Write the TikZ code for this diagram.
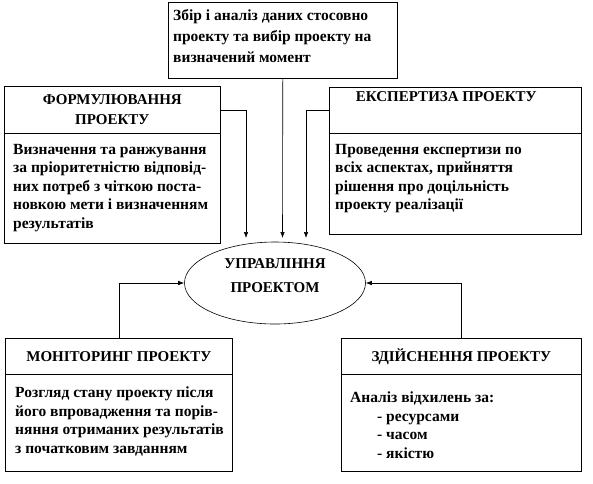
\documentclass[tikz,border=0pt]{standalone}
\usepackage{fontspec}
\setmainfont{Liberation Serif}
\usetikzlibrary{arrows.meta,shapes.geometric,calc}
\begin{document}
\begin{tikzpicture}[x=1pt,y=-1pt,
  box/.style={draw,line width=0.6pt,anchor=north west,inner sep=0pt},
  txt/.style={anchor=north west,inner sep=0pt,align=left,font=\fontsize{15.5}{18.5}\selectfont\bfseries},
  head/.style={inner sep=0pt,align=center,font=\fontsize{15}{20}\selectfont\bfseries},
  conn/.style={line width=0.6pt,-{Latex[length=6pt,width=4.5pt]}}]
\useasboundingbox (0,0) rectangle (593,483);
% top box
\node[box,minimum width=229pt,minimum height=76pt] (top) at (168,2) {};
\node[txt,font=\fontsize{15.5}{21}\selectfont\bfseries] (toptxt) at (173,9) {Збір і аналіз даних стосовно\\проекту та вибір проекту на\\визначений момент};
% formulation
\node[box,minimum width=216pt,minimum height=47pt] (fh) at (4,86) {};
\node[box,minimum width=216pt,minimum height=110pt] (fb) at (4,133) {};
\node[head] (fht) at (fh.center) {ФОРМУЛЮВАННЯ\\ПРОЕКТУ};
\node[txt] (fbt) at (13,144) {Визначення та ранжування\\за пріоритетністю відповід-\\них потреб з чіткою поста-\\новкою мети і визначенням\\результатів};
% expertise
\node[box,minimum width=252pt,minimum height=46pt] (eh) at (329,87) {};
\node[box,minimum width=252pt,minimum height=101pt] (eb) at (329,133) {};
\node[head] (eht) at ($(eh.center)+(-9,-14)$) {ЕКСПЕРТИЗА ПРОЕКТУ};
\node[txt] (ebt) at (335,144) {Проведення експертизи по\\всіх аспектах, прийняття\\рішення про доцільність\\проекту реалізації};
% ellipse
\node[ellipse,draw,line width=0.6pt,minimum width=181pt,minimum height=82pt,inner sep=0pt] (ell) at (275,283) {};
\node[head,font=\fontsize{15}{24}\selectfont\bfseries] (ellt) at (275,276) {УПРАВЛІННЯ\\ПРОЕКТОМ};
% monitoring
\node[box,minimum width=227pt,minimum height=36pt] (mh) at (5,338) {};
\node[box,minimum width=227pt,minimum height=97pt] (mb) at (5,374) {};
\node[head] (mht) at (mh.center) {МОНІТОРИНГ ПРОЕКТУ};
\node[txt] (mbt) at (15,387) {Розгляд стану проекту після\\його впровадження та порів-\\няння отриманих результатів\\з початковим завданням};
% implementation
\node[box,minimum width=240pt,minimum height=36pt] (ih) at (341,338) {};
\node[box,minimum width=240pt,minimum height=97pt] (ib) at (341,374) {};
\node[head] (iht) at (ih.center) {ЗДІЙСНЕННЯ ПРОЕКТУ};
\node[txt] (ibt) at (350,392) {Аналіз відхилень за:\\\hspace*{27pt}- ресурсами\\\hspace*{27pt}- часом\\\hspace*{27pt}- якістю};
% connectors
\coordinate (a1) at (246,238);
\coordinate (a2) at (282.5,238);
\coordinate (a3) at (306,238);
\draw[conn] (fh.east) -| (a1);
\draw[conn] (top.south) -- (a2);
\draw[conn] (eh.west) -| (a3);
\draw[conn] (mh.north) |- (ell.west);
\draw[conn] (ih.north) |- (ell.east);
\end{tikzpicture}
\end{document}
